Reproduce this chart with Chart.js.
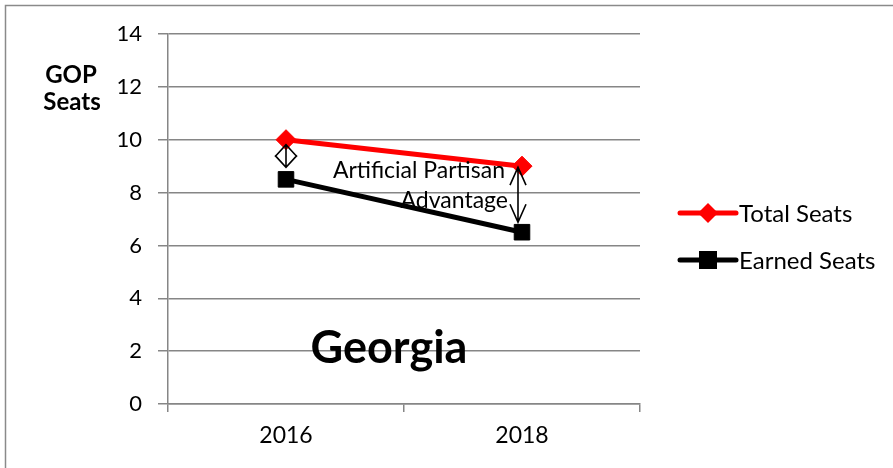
<!DOCTYPE html>
<html>
<head>
<meta charset="utf-8">
<script src="https://cdn.jsdelivr.net/npm/chart.js@4.4.1/dist/chart.umd.min.js"></script>
<style>
  html, body { margin: 0; padding: 0; background: #fff; }
  #wrap { position: relative; width: 893px; height: 468px; }
</style>
</head>
<body>
<div id="wrap"><canvas id="c" width="893" height="468"></canvas></div>
<script>
const years = ['2016', '2018'];
const totalSeats = [10, 9];
const earnedSeats = [8.5, 6.5];
const yTicks = [0, 2, 4, 6, 8, 10, 12, 14];

const FONT = 'Lato, "Open Sans", sans-serif';
const GRID = '#868686';

// open-headed arrow between two y values at a category
function arrow(ctx, x, y1, y2, headLen, headW) {
    ctx.beginPath();
    ctx.moveTo(x, y1); ctx.lineTo(x, y2);
    ctx.moveTo(x - headW, y1 + headLen); ctx.lineTo(x, y1); ctx.lineTo(x + headW, y1 + headLen);
    ctx.moveTo(x - headW, y2 - headLen); ctx.lineTo(x, y2); ctx.lineTo(x + headW, y2 - headLen);
    ctx.stroke();
}

const decor = {
    id: 'decor',
    beforeDraw(chart) {
        const ctx = chart.ctx;
        ctx.save();
        ctx.fillStyle = '#fff';
        ctx.fillRect(0, 0, chart.width, chart.height);
        ctx.strokeStyle = '#8a8a8a';
        ctx.lineWidth = 1.5;
        ctx.strokeRect(5.5, 5.5, 920, 500);
        ctx.restore();
    },
    afterDraw(chart) {
        const ctx = chart.ctx;
        const xs = chart.scales.x, ys = chart.scales.y;
        ctx.save();

        // y axis title
        ctx.fillStyle = '#000';
        ctx.font = 'bold 24px ' + FONT;
        ctx.textAlign = 'center';
        ctx.textBaseline = 'middle';
        ctx.fillText('GOP', 71, 75);
        ctx.fillText('Seats', 72, 102);

        // state name
        ctx.font = 'bold 45px ' + FONT;
        ctx.fillText('Georgia', (xs.left + xs.right) / 2 - 15, ys.getPixelForValue(2.1));

        // arrows
        ctx.strokeStyle = '#000';
        ctx.lineWidth = 1.6;
        const x0 = xs.getPixelForValue(0), x1 = xs.getPixelForValue(1);
        arrow(ctx, x0, ys.getPixelForValue(totalSeats[0]) + 5, ys.getPixelForValue(earnedSeats[0]) - 12, 12, 11);
        arrow(ctx, x1 - 4, ys.getPixelForValue(totalSeats[1]) + 1, ys.getPixelForValue(earnedSeats[1]) - 10, 18, 8);

        // annotation text
        ctx.font = '23px ' + FONT;
        ctx.textAlign = 'right';
        ctx.fillText('Artificial Partisan', x1 - 17, ys.getPixelForValue(totalSeats[1]) + 4);
        ctx.fillText('Advantage', x1 - 14, ys.getPixelForValue(totalSeats[1]) + 34);

        // legend
        const lx = 680, ly = [213, 260];
        chart.data.datasets.forEach((ds, i) => {
            const y = ly[i];
            ctx.strokeStyle = ds.borderColor;
            ctx.fillStyle = ds.pointBackgroundColor;
            ctx.lineWidth = 5;
            ctx.lineCap = 'round';
            ctx.beginPath();
            ctx.moveTo(lx, y); ctx.lineTo(lx + 56, y);
            ctx.stroke();
            ctx.beginPath();
            if (ds.pointStyle === 'rectRot') {
                ctx.moveTo(lx + 28, y - 10); ctx.lineTo(lx + 38, y);
                ctx.lineTo(lx + 28, y + 10); ctx.lineTo(lx + 18, y);
                ctx.closePath();
            } else {
                ctx.rect(lx + 19, y - 9, 18, 18);
            }
            ctx.fill();
            ctx.fillStyle = '#000';
            ctx.font = '24px ' + FONT;
            ctx.textAlign = 'left';
            ctx.textBaseline = 'middle';
            ctx.fillText(ds.label, lx + 59, y + 1);
        });
        ctx.restore();
    }
};

new Chart(document.getElementById('c'), {
    type: 'line',
    data: {
        labels: years,
        datasets: [{
            label: 'Total Seats',
            data: totalSeats,
            borderColor: '#ff0000',
            backgroundColor: '#ff0000',
            pointBackgroundColor: '#ff0000',
            pointBorderColor: '#ff0000',
            borderWidth: 5,
            pointStyle: 'rectRot',
            pointRadius: 10,
            pointBorderWidth: 1,
            tension: 0
        }, {
            label: 'Earned Seats',
            data: earnedSeats,
            borderColor: '#000000',
            backgroundColor: '#000000',
            pointBackgroundColor: '#000000',
            pointBorderColor: '#000000',
            borderWidth: 5,
            pointStyle: 'rect',
            pointRadius: 11,
            pointBorderWidth: 1,
            tension: 0
        }]
    },
    options: {
        responsive: false,
        animation: false,
        layout: { padding: { left: 108, right: 253, top: 34, bottom: 14 } },
        plugins: { legend: { display: false }, tooltip: { enabled: false } },
        scales: {
            x: {
                offset: true,
                afterFit: s => { s.height = 50; },
                grid: { offset: true, drawOnChartArea: false, drawTicks: true, tickLength: 8, color: GRID, lineWidth: 1.5 },
                border: { color: GRID, width: 1.5 },
                ticks: { color: '#000', font: { family: FONT, size: 23 }, padding: 10 }
            },
            y: {
                min: 0, max: 14,
                afterFit: s => { s.width = 60; },
                afterBuildTicks: s => { s.ticks = yTicks.map(v => ({ value: v })); },
                grid: { color: GRID, lineWidth: 1.5, tickLength: 10 },
                border: { color: GRID, width: 1.5 },
                ticks: { color: '#000', font: { family: FONT, size: 22 }, padding: 16 }
            }
        }
    },
    plugins: [decor]
});
</script>
</body>
</html>
